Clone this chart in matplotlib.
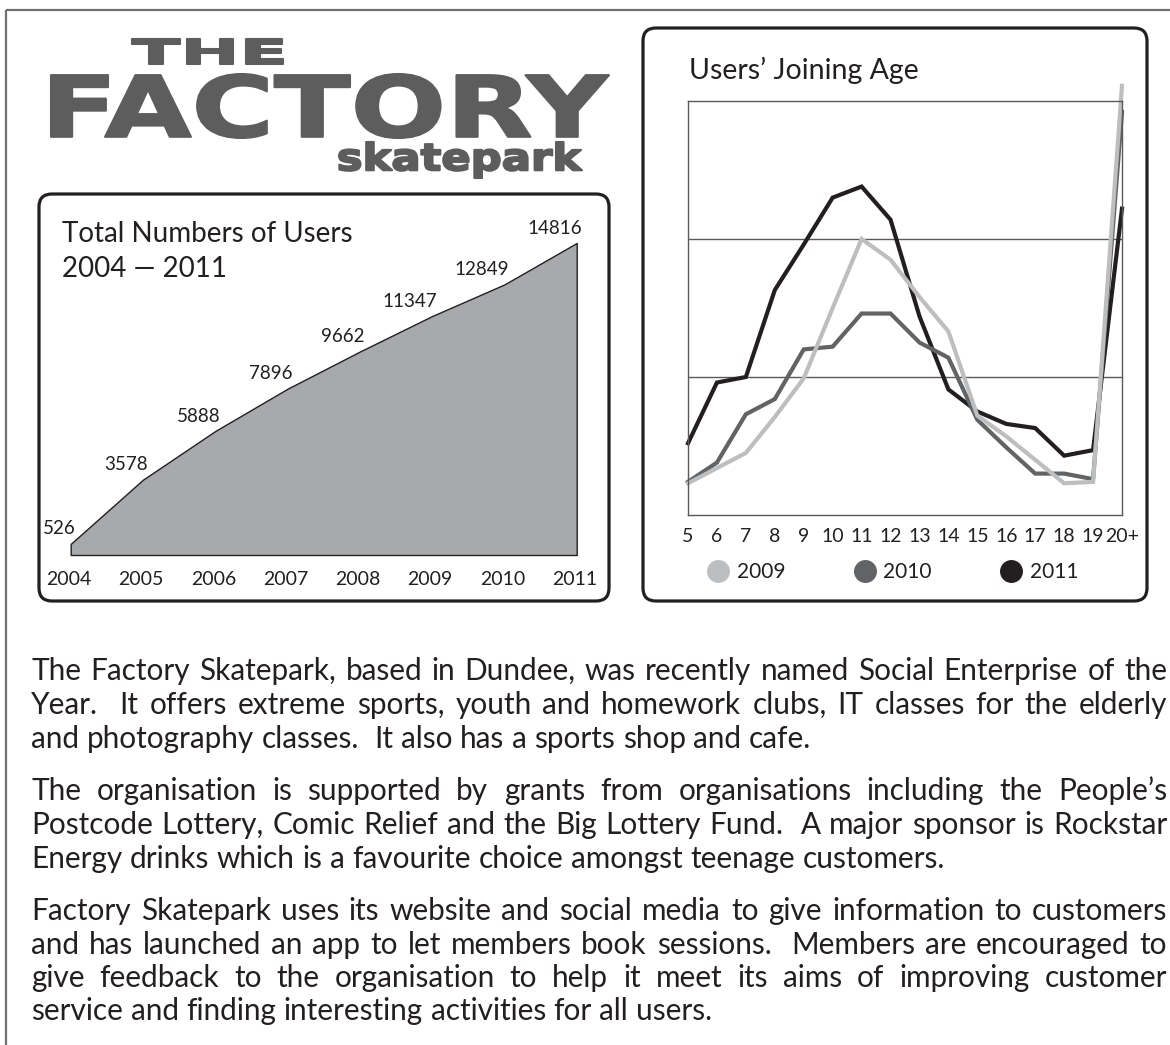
import matplotlib
matplotlib.use("Agg")
import matplotlib.pyplot as plt
from matplotlib.patches import FancyBboxPatch, PathPatch
from matplotlib.textpath import TextPath
from matplotlib.font_manager import FontProperties
from matplotlib.transforms import Affine2D
from matplotlib.lines import Line2D

# Total numbers of users
years = [2004, 2005, 2006, 2007, 2008, 2009, 2010, 2011]
users = [526, 3578, 5888, 7896, 9662, 11347, 12849, 14816]

# Users' joining age (gridlines at 10 / 20 / 30)
ages = ['5', '6', '7', '8', '9', '10', '11', '12', '13', '14', '15', '16', '17', '18', '19', '20+']
join_2009 = [2.3, 3.4, 4.5, 7.1, 9.9, 15.0, 20.0, 18.5, 15.8, 13.3, 7.2, 5.7, 4.0, 2.3, 2.4, 31.1]
join_2010 = [2.4, 3.8, 7.3, 8.4, 12.0, 12.2, 14.6, 14.6, 12.5, 11.4, 6.9, 4.9, 3.0, 3.0, 2.6, 29.2]
join_2011 = [5.2, 9.6, 10.0, 16.3, 19.6, 23.0, 23.8, 21.4, 14.4, 9.1, 7.5, 6.6, 6.3, 4.3, 4.7, 22.2]
series_names = ['2009', '2010', '2011']

paragraphs = [
    ["The Factory Skatepark, based in Dundee, was recently named Social Enterprise of the",
     "Year.  It offers extreme sports, youth and homework clubs, IT classes for the elderly",
     "and photography classes.  It also has a sports shop and cafe."],
    ["The organisation is supported by grants from organisations including the People\u2019s",
     "Postcode Lottery, Comic Relief and the Big Lottery Fund.  A major sponsor is Rockstar",
     "Energy drinks which is a favourite choice amongst teenage customers."],
    ["Factory Skatepark uses its website and social media to give information to customers",
     "and has launched an app to let members book sessions.  Members are encouraged to",
     "give feedback to the organisation to help it meet its aims of improving customer",
     "service and finding interesting activities for all users."],
]

W, H = 1170, 1045
FONT = 'Lato'
TXT = '#231f20'
LOGO = '#5d5d5d'
C2009, C2010, C2011 = '#bcbec0', '#626365', '#231f20'

fig = plt.figure(figsize=(W / 100, H / 100), dpi=100)

# background layer in pixel units
bg = fig.add_axes([0, 0, 1, 1])
bg.set_xlim(0, W)
bg.set_ylim(H, 0)
bg.axis('off')


def px_axes(l, t, r, b):
    return fig.add_axes([l / W, 1 - b / H, (r - l) / W, (b - t) / H])


# outer frame (top and left only)
bg.plot([6, W], [10, 10], color='#707070', lw=1.6, solid_capstyle='butt')
bg.plot([6, 6], [10, H], color='#707070', lw=1.6, solid_capstyle='butt')

# rounded panels
for (l, t, r, b) in [(39, 194, 609, 601), (643, 28, 1147, 601)]:
    bg.add_patch(FancyBboxPatch((l, t), r - l, b - t,
                                boxstyle='round,pad=0,rounding_size=13',
                                fc='none', ec=TXT, lw=2.3))


# logo
def logo_word(txt, box, family='DejaVu Sans', weight='bold'):
    l, t, r, b = box
    p = TextPath((0, 0), txt, size=100, prop=FontProperties(family=family, weight=weight))
    ext = p.get_extents()
    tr = (Affine2D().translate(-ext.x0, -ext.y0)
          .scale((r - l) / ext.width, -(b - t) / ext.height)
          .translate(l, b))
    bg.add_patch(PathPatch(tr.transform_path(p), fc=LOGO, ec=LOGO, lw=1.5, joinstyle='round'))


logo_word('THE', (132, 39, 283, 64))
logo_word('FACTORY', (51, 74, 609, 138))
logo_word('skatepark', (339, 142, 582, 178))

# ---------- left chart: total users ----------
axL = px_axes(70.7, 243, 576.7, 555)
axL.fill_between(years, users, 0, facecolor='#a7a9ac', edgecolor=TXT, lw=1.0, clip_on=False)
axL.set_xlim(years[0], years[-1])
axL.set_ylim(0, users[-1])
axL.axis('off')
for yr, v in zip(years, users):
    axL.annotate(str(v), xy=(yr, v), xytext=(5, 15), textcoords='offset pixels',
                 ha='right', va='center', fontsize=13.5, family=FONT, color=TXT)
    axL.annotate(str(yr), xy=(yr, 0), xytext=(-2, -30), textcoords='offset pixels',
                 ha='center', va='baseline', fontsize=14, family=FONT, color=TXT)

bg.text(62, 241.7, 'Total Numbers of Users', fontsize=20, family=FONT, color=TXT, va='baseline')
bg.text(62, 276.7, '2004 \u2014 2011', fontsize=20, family=FONT, color=TXT, va='baseline')

# ---------- right chart: joining age ----------
axR = px_axes(688, 101, 1122, 515)
axR.patch.set_visible(False)
xs = list(range(len(ages)))
for vals, c in [(join_2011, C2011), (join_2010, C2010), (join_2009, C2009)]:
    axR.plot(xs, vals, color=c, lw=3.0, solid_joinstyle='miter', clip_on=False)
for g in [10, 20]:
    axR.axhline(g, color='#58595b', lw=1.0, zorder=0)
axR.set_xlim(0, len(ages) - 1)
axR.set_ylim(0, 30)
axR.set_yticks([])
axR.set_xticks(xs)
axR.set_xticklabels(ages, fontsize=14, family=FONT, color=TXT)
axR.tick_params(axis='x', length=0, pad=9)
axR.set_xticks([0, len(ages) - 1], minor=True)
axR.tick_params(axis='x', which='minor', length=5, width=1.0, color='#58595b')
for s in axR.spines.values():
    s.set_color('#58595b')
    s.set_linewidth(1.0)

handles = [Line2D([], [], ls='none', marker='o', ms=15.5, color=c) for c in (C2009, C2010, C2011)]
leg = axR.legend(handles, series_names, loc='center', ncol=3, frameon=False,
                 bbox_to_anchor=(893 / W, 1 - 572 / H), bbox_transform=fig.transFigure,
                 handlelength=1.0, handletextpad=0.4, columnspacing=3.3,
                 prop=FontProperties(family=FONT, size=15))
for t in leg.get_texts():
    t.set_color(TXT)

bg.text(689, 79.3, 'Users\u2019 Joining Age', fontsize=20.5, family=FONT, color=TXT, va='baseline')

# ---------- body text, justified ----------
renderer = fig.canvas.get_renderer()
left, right = 31, 1167
baselines = [[680, 714, 748], [800, 834, 868], [920, 954, 987, 1020]]


def text_width(s, size):
    t = bg.text(0, 0, s, fontsize=size, family=FONT)
    w = t.get_window_extent(renderer=renderer).width
    t.remove()
    return w


size = 22
natural = max(text_width(line, size) for para in paragraphs for line in para[:-1])
if natural > (right - left) * 0.985:
    size = size * (right - left) * 0.985 / natural
space = text_width('n n', size) - text_width('nn', size)

for para, ys in zip(paragraphs, baselines):
    for i, (line, y) in enumerate(zip(para, ys)):
        words = line.split()
        widths = [text_width(w, size) for w in words]
        gaps = [2 if w.endswith('.') else 1 for w in words[:-1]]
        if i == len(para) - 1:
            unit = space
        else:
            unit = (right - left - sum(widths)) / sum(gaps)
        x = left
        for j, w in enumerate(words):
            bg.text(x, y, w, fontsize=size, family=FONT, color=TXT, va='baseline', ha='left')
            if j < len(gaps):
                x += widths[j] + gaps[j] * unit

fig.savefig('out.png', dpi=100)
